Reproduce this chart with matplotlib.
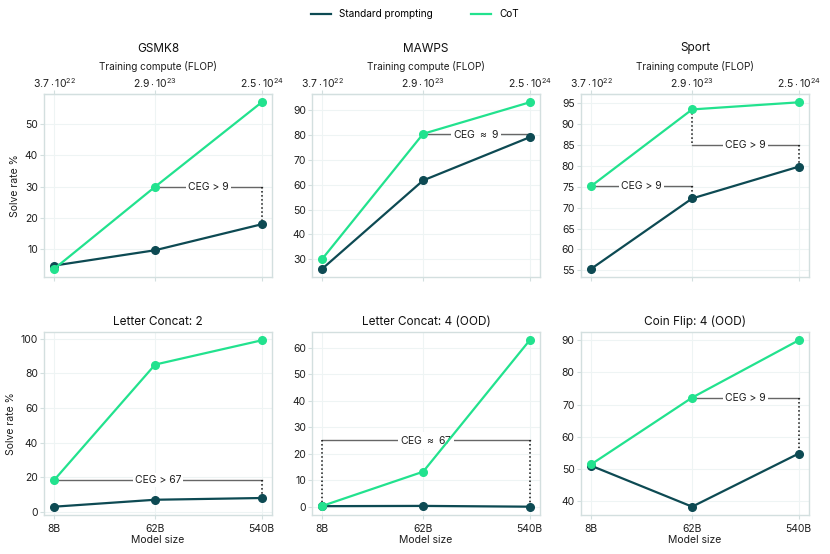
import matplotlib
matplotlib.use("Agg")
import matplotlib.pyplot as plt
from matplotlib.ticker import MultipleLocator, NullLocator

plt.rcParams['font.family'] = ['Inter', 'DejaVu Sans']
plt.rcParams['mathtext.fontset'] = 'custom'
plt.rcParams['mathtext.rm'] = 'Inter'
plt.rcParams['mathtext.it'] = 'Inter'

model_sizes = [8, 62, 540]
size_labels = ['8B', '62B', '540B']
compute_labels = [r'$3.7 \cdot 10^{22}$', r'$2.9 \cdot 10^{23}$', r'$2.5 \cdot 10^{24}$']

titles = ['GSMK8', 'MAWPS', 'Sport',
          'Letter Concat: 2', 'Letter Concat: 4 (OOD)', 'Coin Flip: 4 (OOD)']

standard = [
    [4.8, 9.7, 18.0],
    [26.2, 61.8, 79.2],
    [55.4, 72.2, 79.8],
    [3.0, 7.0, 8.0],
    [0.2, 0.3, 0.0],
    [51.0, 38.3, 54.8],
]
cot = [
    [3.8, 30.0, 57.0],
    [30.2, 80.6, 93.3],
    [75.2, 93.5, 95.2],
    [18.5, 85.0, 99.0],
    [0.3, 13.2, 62.8],
    [51.5, 72.2, 90.0],
]
y_steps = [10, 10, 5, 20, 10, 10]

# annotations: (x_start, x_end, y_line, label, dotted segments [(x, y0, y1)])
ceg = [
    [(62, 540, 30.0, 'CEG > 9', [(540, 30.0, 18.0)])],
    [(62, 540, 80.6, 'CEG $\\approx$ 9', [(540, 80.6, 79.2)])],
    [(8, 62, 75.2, 'CEG > 9', [(62, 75.2, 72.2)]),
     (62, 540, 85.0, 'CEG > 9', [(62, 93.5, 85.0), (540, 85.0, 79.8)])],
    [(8, 540, 18.5, 'CEG > 67', [(540, 18.5, 8.0)])],
    [(8, 540, 25.0, 'CEG $\\approx$ 67', [(8, 25.0, 0.2), (540, 25.0, 0.0)])],
    [(62, 540, 72.2, 'CEG > 9', [(540, 72.2, 54.8)])],
]

dark = '#0d4a53'
green = '#22e28e'
spine_c = '#d3dfdf'
grid_c = '#eef4f4'
text_c = '#1e1e1e'

fig = plt.figure(figsize=(8.3, 5.54), dpi=100)
lefts = [44, 312, 581]
w = 228 / 830
rows = [(277, 94), (515, 332)]

for i in range(6):
    r, c = divmod(i, 3)
    bot, top = rows[r]
    h = bot - top
    ax = fig.add_axes([lefts[c] / 830, 1 - bot / 554, w, h / 554])
    ax.set_xscale('log')
    ax.plot(model_sizes, standard[i], color=dark, lw=1.6, marker='o', ms=5.5, zorder=3,
            label='Standard prompting')
    ax.plot(model_sizes, cot[i], color=green, lw=1.6, marker='o', ms=5.5, zorder=3,
            label='CoT')
    ax.xaxis.set_minor_locator(NullLocator())
    ax.set_xticks(model_sizes)
    ax.set_xticklabels(size_labels)
    ax.yaxis.set_major_locator(MultipleLocator(y_steps[i]))
    ax.grid(True, color=grid_c, lw=0.8, zorder=0)
    for s in ax.spines.values():
        s.set_color(spine_c)
        s.set_linewidth(1.0)
    ax.tick_params(colors=spine_c, labelcolor=text_c, labelsize=7.5, length=3)
    ax.tick_params(axis='y', pad=1.5)

    for x0, x1, yl, lab, dots in ceg[i]:
        ax.plot([x0, x1], [yl, yl], color='#666666', lw=1.0, zorder=2)
        xm = (x0 * x1) ** 0.5
        ax.text(xm, yl, lab, ha='center', va='center', fontsize=7.5, color=text_c, zorder=2.5,
                bbox=dict(facecolor='white', edgecolor='none', pad=1.5))
        for xd, ya, yb in dots:
            ax.plot([xd, xd], [ya, yb], color='#111111', lw=1.1, ls=':', zorder=2)

    if c == 0:
        ax.set_ylabel('Solve rate %', fontsize=7.5, color=text_c, labelpad=3)
    if r == 0:
        ax.tick_params(labelbottom=False)
        sec = ax.secondary_xaxis('top')
        sec.xaxis.set_minor_locator(NullLocator())
        sec.set_xticks(model_sizes)
        sec.set_xticklabels(compute_labels)
        sec.tick_params(colors=spine_c, labelcolor=text_c, labelsize=7.5, length=3, pad=0)
        sec.spines['top'].set_color(spine_c)
        sec.set_xlabel('Training compute (FLOP)', fontsize=7.2, color=text_c, labelpad=4)
        ax.text(0.5, 1 + (94 - 48.5) / h, titles[i], transform=ax.transAxes,
                ha='center', va='center', fontsize=8.5, color='#111111')
    else:
        ax.set_xlabel('Model size', fontsize=7.5, color=text_c, labelpad=1)
        ax.set_title(titles[i], fontsize=8.5, color='#111111', pad=5)

    if i == 0:
        handles, labels = ax.get_legend_handles_labels()

leg = fig.legend(handles, labels, loc='upper center', bbox_to_anchor=(0.5, 1.0), ncol=2,
                 frameon=False, fontsize=7.2, handlelength=2.0, columnspacing=3.8)
for h_ in leg.legend_handles:
    h_.set_marker('')

fig.savefig('out.png', dpi=100)
